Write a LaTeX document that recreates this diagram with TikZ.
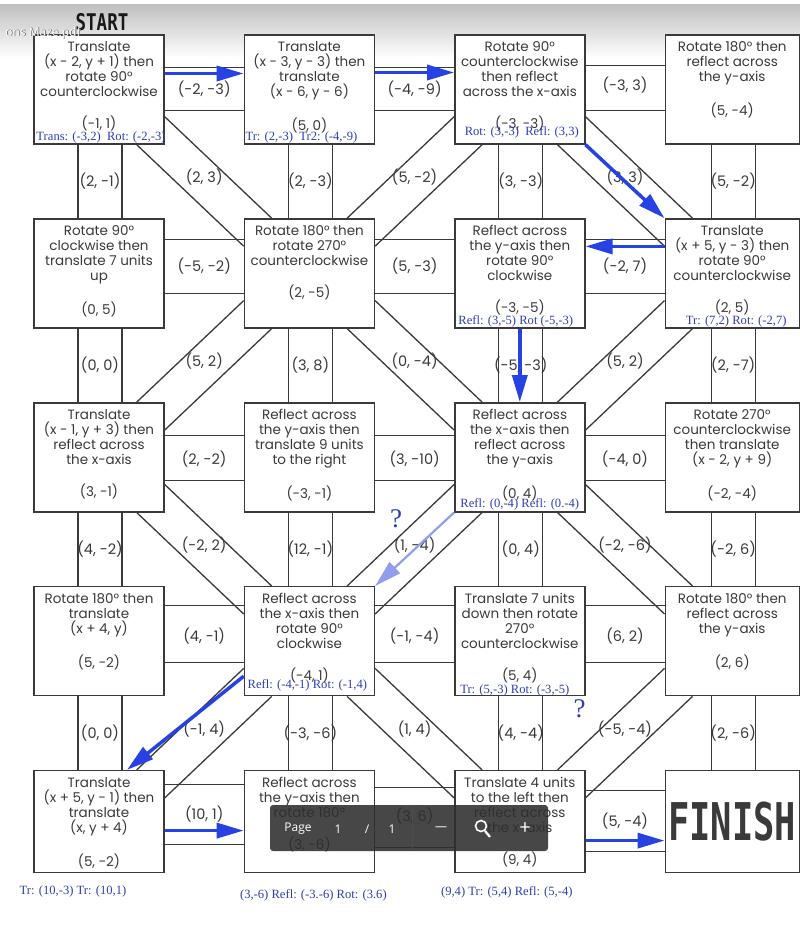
\documentclass[tikz,border=0pt]{standalone}
\usepackage{fontspec}
\setmainfont{Liberation Serif}
\newfontfamily\mazefont{Poppins}
\newfontfamily\signfont{DejaVu Sans Mono}
\newfontfamily\uifont{Open Sans}
\usetikzlibrary{arrows.meta, positioning, calc}

\definecolor{inkgray}{RGB}{58,58,58}
\definecolor{noteblue}{RGB}{48,62,178}
\definecolor{arrowblue}{RGB}{38,66,226}
\definecolor{fadeblue}{RGB}{146,158,236}

% steps on top, start point below
\newcommand{\mazecell}[3][100pt]{%
  \parbox[c][#1][t]{130pt}{\centering\vspace*{2pt}#2\par\vspace{17pt}#3}}

\begin{document}
\begin{tikzpicture}[
    x=1pt, y=1pt,
    node distance=73.5pt and 79pt,
    font=\mazefont\fontsize{13.5}{15}\selectfont,
    % Define styles
    cell/.style={
        rectangle,
        draw=inkgray,
        fill=white,
        text=inkgray,
        minimum width=130pt,
        minimum height=109pt,
        inner sep=0pt,
        line width=1.4pt
    },
    widecell/.style={
        cell,
        minimum width=134pt
    },
    lowcell/.style={
        cell,
        minimum height=102pt
    },
    wall/.style={
        draw=inkgray,
        line width=1.3pt
    },
    answer/.style={
        text=inkgray,
        inner sep=1pt,
        font=\mazefont\fontsize{14.5}{15}\selectfont
    },
    note/.style={
        text=noteblue,
        inner sep=0pt,
        font=\rmfamily\fontsize{12.6}{13}\selectfont
    },
    sign/.style={
        text=black!90,
        inner sep=0pt,
        font=\signfont\bfseries
    },
    move/.style={
        draw=arrowblue,
        line width=3.5pt,
        -{Triangle[length=27pt, width=15pt]}
    },
    guess/.style={
        move,
        draw=fadeblue,
        line width=2.2pt
    },
    bar/.style={
        rectangle,
        rounded corners=3pt,
        fill=black!82,
        fill opacity=0.88,
        minimum width=278pt,
        minimum height=46pt
    },
    bartext/.style={
        text=white,
        inner sep=0pt,
        font=\uifont\fontsize{12}{12}\selectfont
    }
]

\fill[white] (0,0) rectangle (800,-929);
\useasboundingbox (0,0) rectangle (800,-929);
\shade[top color=gray!50, bottom color=white] (0,-4) rectangle (800,-58);

% Place nodes
% Row 1
\node[cell] (b1) at (99,-89.5) {\mazecell{Translate\\(x - 2, y + 1) then\\rotate 90°\\counterclockwise}{(-1, 1)}};
\node[cell, right=of b1] (b2) {\mazecell{Translate\\(x - 3, y - 3) then\\translate\\(x - 6, y - 6)}{(5, 0)}};
\node[cell, right=of b2] (b3) {\mazecell{Rotate 90°\\counterclockwise\\then reflect\\across the x-axis}{(-3, -3)}};
\node[widecell, right=of b3] (b4) {\mazecell{Rotate 180° then\\reflect across\\the y-axis}{(5, -4)}};

% Row 2
\node[cell, below=of b1] (b5) {\mazecell{Rotate 90°\\clockwise then\\translate 7 units\\up}{(0, 5)}};
\node[cell, below=of b2] (b6) {\mazecell{Rotate 180° then\\rotate 270°\\counterclockwise}{(2, -5)}};
\node[cell, below=of b3] (b7) {\mazecell{Reflect across\\the y-axis then\\rotate 90°\\clockwise}{(-3, -5)}};
\node[widecell, below=of b4] (b8) {\mazecell{Translate\\(x + 5, y - 3) then\\rotate 90°\\counterclockwise}{(2, 5)}};

% Row 3
\node[cell, below=of b5] (b9) {\mazecell{Translate\\(x - 1, y + 3) then\\reflect across\\the x-axis}{(3, -1)}};
\node[cell, below=of b6] (b10) {\mazecell{Reflect across\\the y-axis then\\translate 9 units\\to the right}{(-3, -1)}};
\node[cell, below=of b7] (b11) {\mazecell{Reflect across\\the x-axis then\\reflect across\\the y-axis}{(0, 4)}};
\node[widecell, below=of b8] (b12) {\mazecell{Rotate 270°\\counterclockwise\\then translate\\(x - 2, y + 9)}{(-2, -4)}};

% Row 4
\node[cell, below=of b9] (b13) {\mazecell{Rotate 180° then\\translate\\(x + 4, y)}{(5, -2)}};
\node[cell, below=of b10] (b14) {\mazecell{Reflect across\\the x-axis then\\rotate 90°\\clockwise}{(-4, 1)}};
\node[cell, below=of b11] (b15) {\mazecell{Translate 7 units\\down then rotate\\270°\\counterclockwise}{(5, 4)}};
\node[widecell, below=of b12] (b16) {\mazecell{Rotate 180° then\\reflect across\\the y-axis}{(2, 6)}};

% Row 5
\node[lowcell, below=of b13] (b17) {\mazecell[93pt]{Translate\\(x + 5, y - 1) then\\translate\\(x, y + 4)}{(5, -2)}};
\node[lowcell, below=of b14] (b18) {\mazecell[93pt]{Reflect across\\the y-axis then\\rotate 180°}{(3, -6)}};
\node[lowcell, below=of b15] (b19) {\mazecell[93pt]{Translate 4 units\\to the left then\\reflect across\\the x-axis}{(9, 4)}};
\node[lowcell, minimum width=134pt, below=of b16] (b20) {\raisebox{-8pt}{\scalebox{0.68}[1]{\signfont\bfseries\fontsize{52}{52}\selectfont FINISH}}};

\node[sign] (start) at (102,-22) {\scalebox{0.76}[1]{\fontsize{23}{23}\selectfont START}};
\node[bartext, text=gray!70!black] (tabshadow) at (43.8,-33.8) {ons Maze.pdf};
\node[bartext] (tab) at (43,-33) {ons Maze.pdf};

% Draw edges
% Side by side
\foreach \src/\dst/\ya/\yb/\ym/\lbl in {
    b1/b2/22/-21/0/{(-2, -3)}, b2/b3/22/-21/0/{(-4, -9)}, b3/b4/24/-21/4/{(-3, 3)},
    b5/b6/34/-20/7/{(-5, -2)}, b6/b7/34/-20/7/{(5, -3)}, b7/b8/34/-20/7/{(-2, 7)},
    b9/b10/22/-23/-2/{(2, -2)}, b10/b11/22/-23/-2/{(3, -10)}, b11/b12/22/-23/-2/{(-4, 0)},
    b13/b14/36/-21/5/{(4, -1)}, b14/b15/36/-21/5/{(-1, -4)}, b15/b16/36/-21/5/{(6, 2)},
    b17/b18/37/-23/8/{(10, 1)}, b18/b19/34/-26/6/{(3, 6)}, b19/b20/31/-30/1/{(5, -4)}}{
    \path[wall] ([yshift=\ya]\src.east) -- ([yshift=\ya]\dst.west);
    \path[wall] ([yshift=\yb]\src.east) -- ([yshift=\yb]\dst.west);
    \node[answer] (h-\src-\dst) at ($(\src.east)!0.5!(\dst.west)+(0,\ym)$) {\lbl};
}

% One above the other
\foreach \src/\dst/\lbl in {
    b1/b5/{(2, -1)}, b2/b6/{(2, -3)}, b3/b7/{(3, -3)}, b4/b8/{(5, -2)},
    b5/b9/{(0, 0)}, b6/b10/{(3, 8)}, b7/b11/{(-5, -3)}, b8/b12/{(2, -7)},
    b9/b13/{(4, -2)}, b10/b14/{(12, -1)}, b11/b15/{(0, 4)}, b12/b16/{(-2, 6)},
    b13/b17/{(0, 0)}, b14/b18/{(-3, -6)}, b15/b19/{(4, -4)}, b16/b20/{(2, -6)}}{
    \path[wall] ([xshift=-21]\src.south) -- ([xshift=-21]\dst.north);
    \path[wall] ([xshift=23]\src.south) -- ([xshift=23]\dst.north);
    \node[answer] (v-\src-\dst) at ($(\src.south)!0.5!(\dst.north)+(1,0)$) {\lbl};
}

% Diagonals, down to the right
\foreach \src/\dst/\lbl in {
    b1/b6/{(2, 3)}, b3/b8/{(3, 3)}, b6/b11/{(0, -4)},
    b9/b14/{(-2, 2)}, b11/b16/{(-2, -6)}, b14/b19/{(1, 4)}}{
    \path[wall] ([yshift=28]\src.south east) -- ([xshift=28]\dst.north west);
    \path[wall] ([xshift=-28]\src.south east) -- ([yshift=-28]\dst.north west);
    \node[answer] (d-\src-\dst) at ($(\src.south east)!0.5!(\dst.north west)+(0,4)$) {\lbl};
}

% Diagonals, down to the left
\foreach \src/\dst/\lbl in {
    b3/b6/{(5, -2)}, b6/b9/{(5, 2)}, b8/b11/{(5, 2)},
    b11/b14/{(1, -4)}, b14/b17/{(-1, 4)}, b16/b19/{(-5, -4)}}{
    \path[wall] ([yshift=28]\src.south west) -- ([xshift=-28]\dst.north east);
    \path[wall] ([xshift=28]\src.south west) -- ([yshift=-28]\dst.north east);
    \node[answer] (d-\src-\dst) at ($(\src.south west)!0.5!(\dst.north east)+(0,4)$) {\lbl};
}

% Worked steps
\node[note] (n1) at ($(b1.south)+(2,7)$) {Trans: (-3,2)\enspace Rot: (-2,-3)};
\node[note] (n2) at ($(b2.south)+(-8,7)$) {Tr: (2,-3)\enspace Tr2: (-4,-9)};
\node[note] (n3) at ($(b3.south)+(2,12)$) {Rot: (3,-3)\enspace Refl: (3,3)};
\node[note] (n7) at ($(b7.south)+(-4,7)$) {Refl: (3,-5) Rot (-5,-3)};
\node[note] (n8) at ($(b8.south)+(4,7)$) {Tr: (7,2) Rot: (-2,7)};
\node[note] (n11) at ($(b11.south)+(0,8)$) {Refl: (0,-4) Refl: (0.-4)};
\node[note] (n14) at ($(b14.south)+(-2,11)$) {Refl: (-4,-1) Rot: (-1,4)};
\node[note] (n15) at ($(b15.south)+(-5,6)$) {Tr: (5,-3) Rot: (-3,-5)};
\node[note] (n17) at ($(b17.south)+(-26,-18)$) {Tr: (10,-3) Tr: (10,1)};
\node[note] (n18) at ($(b18.south)+(4,-22)$) {(3,-6) Refl: (-3.-6) Rot: (3.6)};
\node[note] (n19) at ($(b19.south)+(-13,-19)$) {(9,4) Tr: (5,4) Refl: (5,-4)};
\node[note, font=\rmfamily\fontsize{27}{27}\selectfont] (q1) at (396,-519) {?};
\node[note, font=\rmfamily\fontsize{27}{27}\selectfont] (q2) at ($(b15.south east)+(-6,-12)$) {?};

% Path taken
\path[move] ([yshift=16]b1.east) -- ([yshift=16]b2.west);
\path[move] ([yshift=17]b2.east) -- ([yshift=17]b3.west);
\path[move] (b3.south east) -- (b8.north west);
\path[move] ([yshift=27]b8.west) -- ([yshift=27]b7.east);
\path[move] (b7.south) -- (b11.north);
\path[guess] (b11.south west) -- (b14.north east);
\path[move] ([yshift=-35]b14.west) -- ([xshift=28]b17.north);
\path[move] ([yshift=-9]b17.east) -- ([yshift=-9]b18.west);
\path[move] ([yshift=-19]b19.east) -- ([yshift=-19]b20.west);

% Viewer toolbar
\node[bar] (bar) at (409,-828) {};
\node[bartext] (pg) at (298,-829) {Page};
\node[bartext] (pg1) at (338,-829) {1};
\node[bartext] (pgs) at (367,-829) {/};
\node[bartext] (pg2) at (392,-829) {1};
\draw[gray!60!black, line width=0.8pt] ([xshift=3]bar.north) -- ([xshift=3]bar.south);
\node[bartext] (zoomout) at (441,-829) {—};
\draw[white, line width=1.6pt] (481,-826) circle (5.5pt);
\draw[white, line width=2.2pt] (485,-831) -- (490,-837);
\node[bartext, font=\uifont\fontsize{20}{20}\selectfont] (zoomin) at (525,-829) {+};

\end{tikzpicture}
\end{document}
